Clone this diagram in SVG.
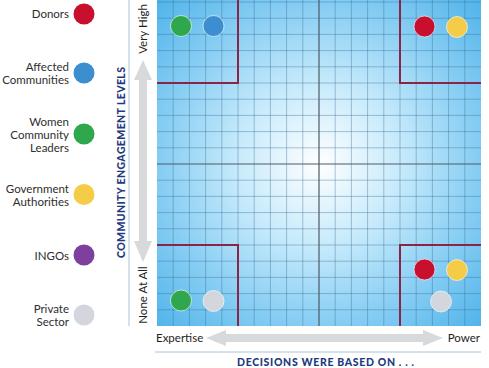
<svg xmlns="http://www.w3.org/2000/svg" width="489" height="368" viewBox="0 0 489 368">
<defs>
<radialGradient id="bg" cx="319" cy="164" r="235" gradientUnits="userSpaceOnUse">
<stop offset="0" stop-color="#ffffff"/>
<stop offset="0.35" stop-color="#c6eafb"/>
<stop offset="0.7" stop-color="#82cbf2"/>
<stop offset="1" stop-color="#4cb2e9"/>
</radialGradient>
<style>
.lbl{font-family:Lato,"Open Sans",sans-serif;font-size:11.5px;fill:#2e2e2e;text-anchor:end}
.ax{font-family:Lato,"Open Sans",sans-serif;font-size:11.5px;fill:#1e1e1e}
.ttl{font-family:Lato,"Open Sans",sans-serif;font-size:10.5px;font-weight:900;fill:#1f3a80}
.grid{fill:none;stroke:#3a6f98;stroke-opacity:0.4;stroke-width:1}
.mid{fill:none;stroke:#4e5a66;stroke-width:1.2}
.zone{fill:none;stroke:#8a2448;stroke-width:2}
.dot{stroke:#ffffff;stroke-opacity:0.6;stroke-width:1}
.arrow{fill:#d8d9db}
.rule{stroke:#a9c4dc;stroke-width:1}
</style>
</defs>
<g id="legend">
<g id="leg-donors"><text class="lbl" x="69" y="18">Donors</text><circle cx="84" cy="14" r="10.5" fill="#c8102e"/></g>
<g id="leg-affected"><text class="lbl" x="69" y="71">Affected</text><text class="lbl" x="69" y="84">Communities</text><circle cx="84" cy="73" r="10.5" fill="#3b8fd1"/></g>
<g id="leg-women"><text class="lbl" x="69" y="125.5">Women</text><text class="lbl" x="69" y="138.5">Community</text><text class="lbl" x="69" y="151.5">Leaders</text><circle cx="84" cy="134" r="10.5" fill="#2fa84d"/></g>
<g id="leg-gov"><text class="lbl" x="69" y="193">Government</text><text class="lbl" x="69" y="206">Authorities</text><circle cx="84" cy="194.5" r="10.5" fill="#f5cc48"/></g>
<g id="leg-ingos"><text class="lbl" x="69" y="259.5">INGOs</text><circle cx="84" cy="255" r="10.5" fill="#7d409f"/></g>
<g id="leg-private"><text class="lbl" x="69" y="313">Private</text><text class="lbl" x="69" y="326">Sector</text><circle cx="84" cy="315" r="10.5" fill="#d4d6dd"/></g>
</g>
<g id="chart">
<rect x="157" y="0" width="324" height="326" fill="url(#bg)"/>
<path class="grid" d="M173.2,0V326M189.4,0V326M205.6,0V326M221.8,0V326M238,0V326M254.2,0V326M270.4,0V326M286.6,0V326M302.8,0V326M335.2,0V326M351.4,0V326M367.6,0V326M383.8,0V326M400,0V326M416.2,0V326M432.4,0V326M448.6,0V326M464.8,0V326M157,2H481M157,18.2H481M157,34.4H481M157,50.6H481M157,66.8H481M157,83H481M157,99.2H481M157,115.4H481M157,131.6H481M157,147.8H481M157,180.2H481M157,196.4H481M157,212.6H481M157,228.8H481M157,245H481M157,261.2H481M157,277.4H481M157,293.6H481M157,309.8H481"/>
<path class="mid" d="M319,0V326M157,164H481"/>
<path class="zone" d="M157,83H238V0M400,0V83H481M157,245H238V326M400,326V245H481"/>
</g>
<g id="axes">
<line class="rule" x1="129" y1="0" x2="129" y2="326"/>
<line class="rule" x1="155" y1="352" x2="481" y2="352"/>
<polygon class="arrow" points="143,60 152,80 147,80 147,241 152,241 143,262 134,241 139,241 139,80 134,80"/>
<polygon class="arrow" points="206,338 226,330 226,334 423,334 423,330 443,338 423,346 423,342 226,342 226,346"/>
<text class="ax" transform="translate(147,29) rotate(-90)" text-anchor="middle">Very High</text>
<text class="ax" transform="translate(147,295) rotate(-90)" text-anchor="middle">None At All</text>
<text class="ax" x="156" y="342">Expertise</text>
<text class="ax" x="480" y="342" text-anchor="end">Power</text>
<text class="ttl" transform="translate(125,162.5) rotate(-90)" text-anchor="middle" textLength="191" lengthAdjust="spacing">COMMUNITY ENGAGEMENT LEVELS</text>
<text class="ttl" x="237" y="365.5" textLength="177" lengthAdjust="spacing">DECISIONS WERE BASED ON . . .</text>
</g>
<g id="tl-dots"><circle class="dot" cx="181" cy="26" r="10.5" fill="#2fa84d"/><circle class="dot" cx="213.5" cy="26" r="10.5" fill="#3b8fd1"/></g>
<g id="tr-dots"><circle class="dot" cx="424.5" cy="26.5" r="10.5" fill="#c8102e"/><circle class="dot" cx="457" cy="27" r="10.5" fill="#f5cc48"/></g>
<g id="bl-dots"><circle class="dot" cx="181" cy="300.5" r="10.5" fill="#2fa84d"/><circle class="dot" cx="213.5" cy="301" r="10.5" fill="#d4d6dd"/></g>
<g id="br-dots"><circle class="dot" cx="424.5" cy="269.5" r="10.5" fill="#c8102e"/><circle class="dot" cx="457" cy="270" r="10.5" fill="#f5cc48"/><circle class="dot" cx="441" cy="301.5" r="10.5" fill="#d4d6dd"/></g>
</svg>
